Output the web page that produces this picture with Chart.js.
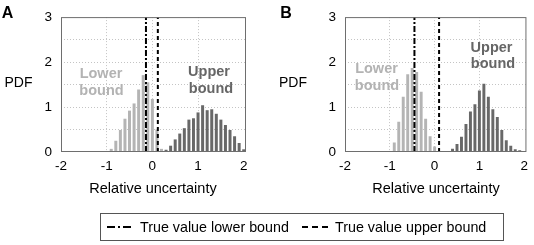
<!DOCTYPE html>
<html>
<head>
<meta charset="utf-8">
<script src="https://cdn.jsdelivr.net/npm/chart.js@4.4.1/dist/chart.umd.min.js"></script>
<style>
  body { margin: 0; width: 534px; height: 245px; background: #fff; position: relative; overflow: hidden;
         font-family: "Liberation Sans", Arial, sans-serif; color: #000; }
  .panel { position: absolute; top: 0; height: 180px; }
  .lbl { position: absolute; white-space: nowrap; line-height: 1; transform: translate(-50%, -50%); }
  .tag { font-weight: bold; font-size: 16px; }
  .ax { font-size: 14.5px; }
  .lo { font-weight: bold; font-size: 14.5px; color: #b3b3b3; }
  .up { font-weight: bold; font-size: 14.5px; color: #666; }
  #legend { position: absolute; left: 100px; top: 213px; width: 402px; height: 26px; border: 1px solid #555; }
  .item { position: absolute; top: 0; height: 26px; display: flex; align-items: center; font-size: 14.3px; }
  .item svg { margin-right: 6px; }
</style>
</head>
<body>

<div class="panel" style="left:0;width:267px"><canvas id="chartA"></canvas></div>
<div class="panel" style="left:284px;width:250px"><canvas id="chartB"></canvas></div>

<div class="lbl tag" style="left:7.5px;top:13px">A</div>
<div class="lbl tag" style="left:286px;top:13px">B</div>
<div class="lbl ax" style="left:18.5px;top:82px;font-size:14px">PDF</div>
<div class="lbl ax" style="left:293px;top:82px;font-size:14px">PDF</div>
<div class="lbl ax" style="left:153px;top:188px">Relative uncertainty</div>
<div class="lbl ax" style="left:436px;top:188px">Relative uncertainty</div>

<div class="lbl lo" style="left:101px;top:73px">Lower</div>
<div class="lbl lo" style="left:101.5px;top:90px">bound</div>
<div class="lbl up" style="left:209px;top:71px">Upper</div>
<div class="lbl up" style="left:211px;top:88px">bound</div>

<div class="lbl lo" style="left:376.5px;top:68px">Lower</div>
<div class="lbl lo" style="left:377px;top:85px">bound</div>
<div class="lbl up" style="left:491.5px;top:47px">Upper</div>
<div class="lbl up" style="left:493px;top:63px">bound</div>

<div id="legend">
  <div class="item" style="left:6px">
    <svg width="27" height="6"><line x1="0" y1="3" x2="27" y2="3" stroke="#000" stroke-width="2" stroke-dasharray="8 3 2 3"/></svg>
    <span>True value lower bound</span>
  </div>
  <div class="item" style="left:201px">
    <svg width="27" height="6"><line x1="0" y1="3" x2="27" y2="3" stroke="#000" stroke-width="2" stroke-dasharray="6 4"/></svg>
    <span>True value upper bound</span>
  </div>
</div>

<script>
// axis ticks
const xTicks = [-2, -1, 0, 1, 2];
const yTicks = [0, 0.5, 1, 1.5, 2, 2.5, 3];

// panel A
const aLowerX = [-0.9, -0.8, -0.7, -0.6, -0.5, -0.4, -0.3, -0.2, -0.1, 0.0, 0.1, 0.2];
const aLowerY = [0.07, 0.25, 0.49, 0.74, 0.92, 1.08, 1.39, 1.71, 1.55, 1.18, 0.5, 0.07];
const aUpperX = [0.3, 0.4, 0.5, 0.6, 0.7, 0.8, 0.9, 1.0, 1.1, 1.2, 1.3, 1.4, 1.5, 1.6, 1.7, 1.8, 1.9, 2.0];
const aUpperY = [0.05, 0.14, 0.28, 0.41, 0.53, 0.72, 0.75, 0.88, 1.04, 0.93, 0.95, 0.85, 0.72, 0.6, 0.49, 0.35, 0.2, 0.06];
const aTrueLower = -0.14;
const aTrueUpper = 0.12;

// panel B
const bLowerX = [-0.9, -0.8, -0.7, -0.6, -0.5, -0.4, -0.3, -0.2, -0.1, 0.0];
const bLowerY = [0.21, 0.67, 1.23, 1.73, 1.87, 1.78, 1.34, 0.74, 0.35, 0.12];
const bUpperX = [0.3, 0.4, 0.5, 0.6, 0.7, 0.8, 0.9, 1.0, 1.1, 1.2, 1.3, 1.4, 1.5, 1.6, 1.7, 1.8, 1.9, 2.0];
const bUpperY = [0.02, 0.07, 0.18, 0.34, 0.62, 0.9, 1.06, 1.37, 1.52, 1.23, 0.95, 0.78, 0.49, 0.26, 0.14, 0.06, 0.04, 0.02];
const bTrueLower = -0.45;
const bTrueUpper = 0.1;

const xMin = -2, xMax = 2.05, yMin = 0, yMax = 3;

Chart.defaults.color = '#000';
Chart.defaults.font.family = '"Liberation Sans", Arial, sans-serif';

// box round the plot area
const framePlugin = {
  id: 'frame',
  afterDatasetsDraw(chart) {
    const { ctx, chartArea: a } = chart;
    ctx.save();
    ctx.strokeStyle = '#6e6e6e';
    ctx.lineWidth = 1;
    ctx.strokeRect(a.left + 0.5, a.top + 0.5, a.right - a.left - 1, a.bottom - a.top - 1);
    ctx.restore();
  }
};

const toPoints = (xs, ys) => xs.map((x, i) => ({ x: x, y: ys[i] }));

function vline(x, dash) {
  return {
    type: 'line',
    data: [{ x: x, y: yMin }, { x: x, y: yMax }],
    borderColor: '#000',
    borderWidth: 2,
    borderDash: dash,
    pointRadius: 0,
    fill: false,
    order: 0
  };
}

function makeChart(id, lowerX, lowerY, upperX, upperY, trueLower, trueUpper, padRight) {
  new Chart(document.getElementById(id), {
    type: 'bar',
    data: {
      datasets: [
        { data: toPoints(lowerX, lowerY), backgroundColor: '#b4b4b4', grouped: false, barPercentage: 0.82, order: 1 },
        { data: toPoints(upperX, upperY), backgroundColor: '#686868', grouped: false, barPercentage: 0.82, order: 1 },
        vline(trueLower, [6, 2, 2, 2]),
        vline(trueUpper, [4, 3])
      ]
    },
    options: {
      responsive: true,
      maintainAspectRatio: false,
      animation: false,
      layout: { padding: { left: 0, top: 10, right: padRight, bottom: 0 } },
      plugins: { legend: { display: false }, tooltip: { enabled: false } },
      scales: {
        x: {
          type: 'linear',
          min: xMin,
          max: xMax,
          offset: false,
          afterBuildTicks: s => { s.ticks = xTicks.map(v => ({ value: v })); },
          afterFit: s => { s.height = 28; },
          ticks: { font: { size: 13.5 }, padding: 6, maxRotation: 0 },
          grid: {
            offset: false,
            drawTicks: false,
            color: c => (c.tick && Math.abs(c.tick.value) === 2) ? 'rgba(0,0,0,0)' : '#c4c4c4'
          },
          border: { display: false, dash: [1, 2] }
        },
        y: {
          min: yMin,
          max: yMax,
          afterBuildTicks: s => { s.ticks = yTicks.map(v => ({ value: v })); },
          afterFit: s => { s.width = 61; },
          ticks: { font: { size: 13.5 }, padding: 9, callback: v => Number.isInteger(v) ? v : '' },
          grid: {
            drawTicks: false,
            color: c => (c.tick && (c.tick.value === yMin || c.tick.value === yMax)) ? 'rgba(0,0,0,0)' : '#c4c4c4'
          },
          border: { display: false, dash: [1, 2] }
        }
      }
    },
    plugins: [framePlugin]
  });
}

makeChart('chartA', aLowerX, aLowerY, aUpperX, aUpperY, aTrueLower, aTrueUpper, 21);
makeChart('chartB', bLowerX, bLowerY, bUpperX, bUpperY, bTrueLower, bTrueUpper, 4);
</script>
</body>
</html>
